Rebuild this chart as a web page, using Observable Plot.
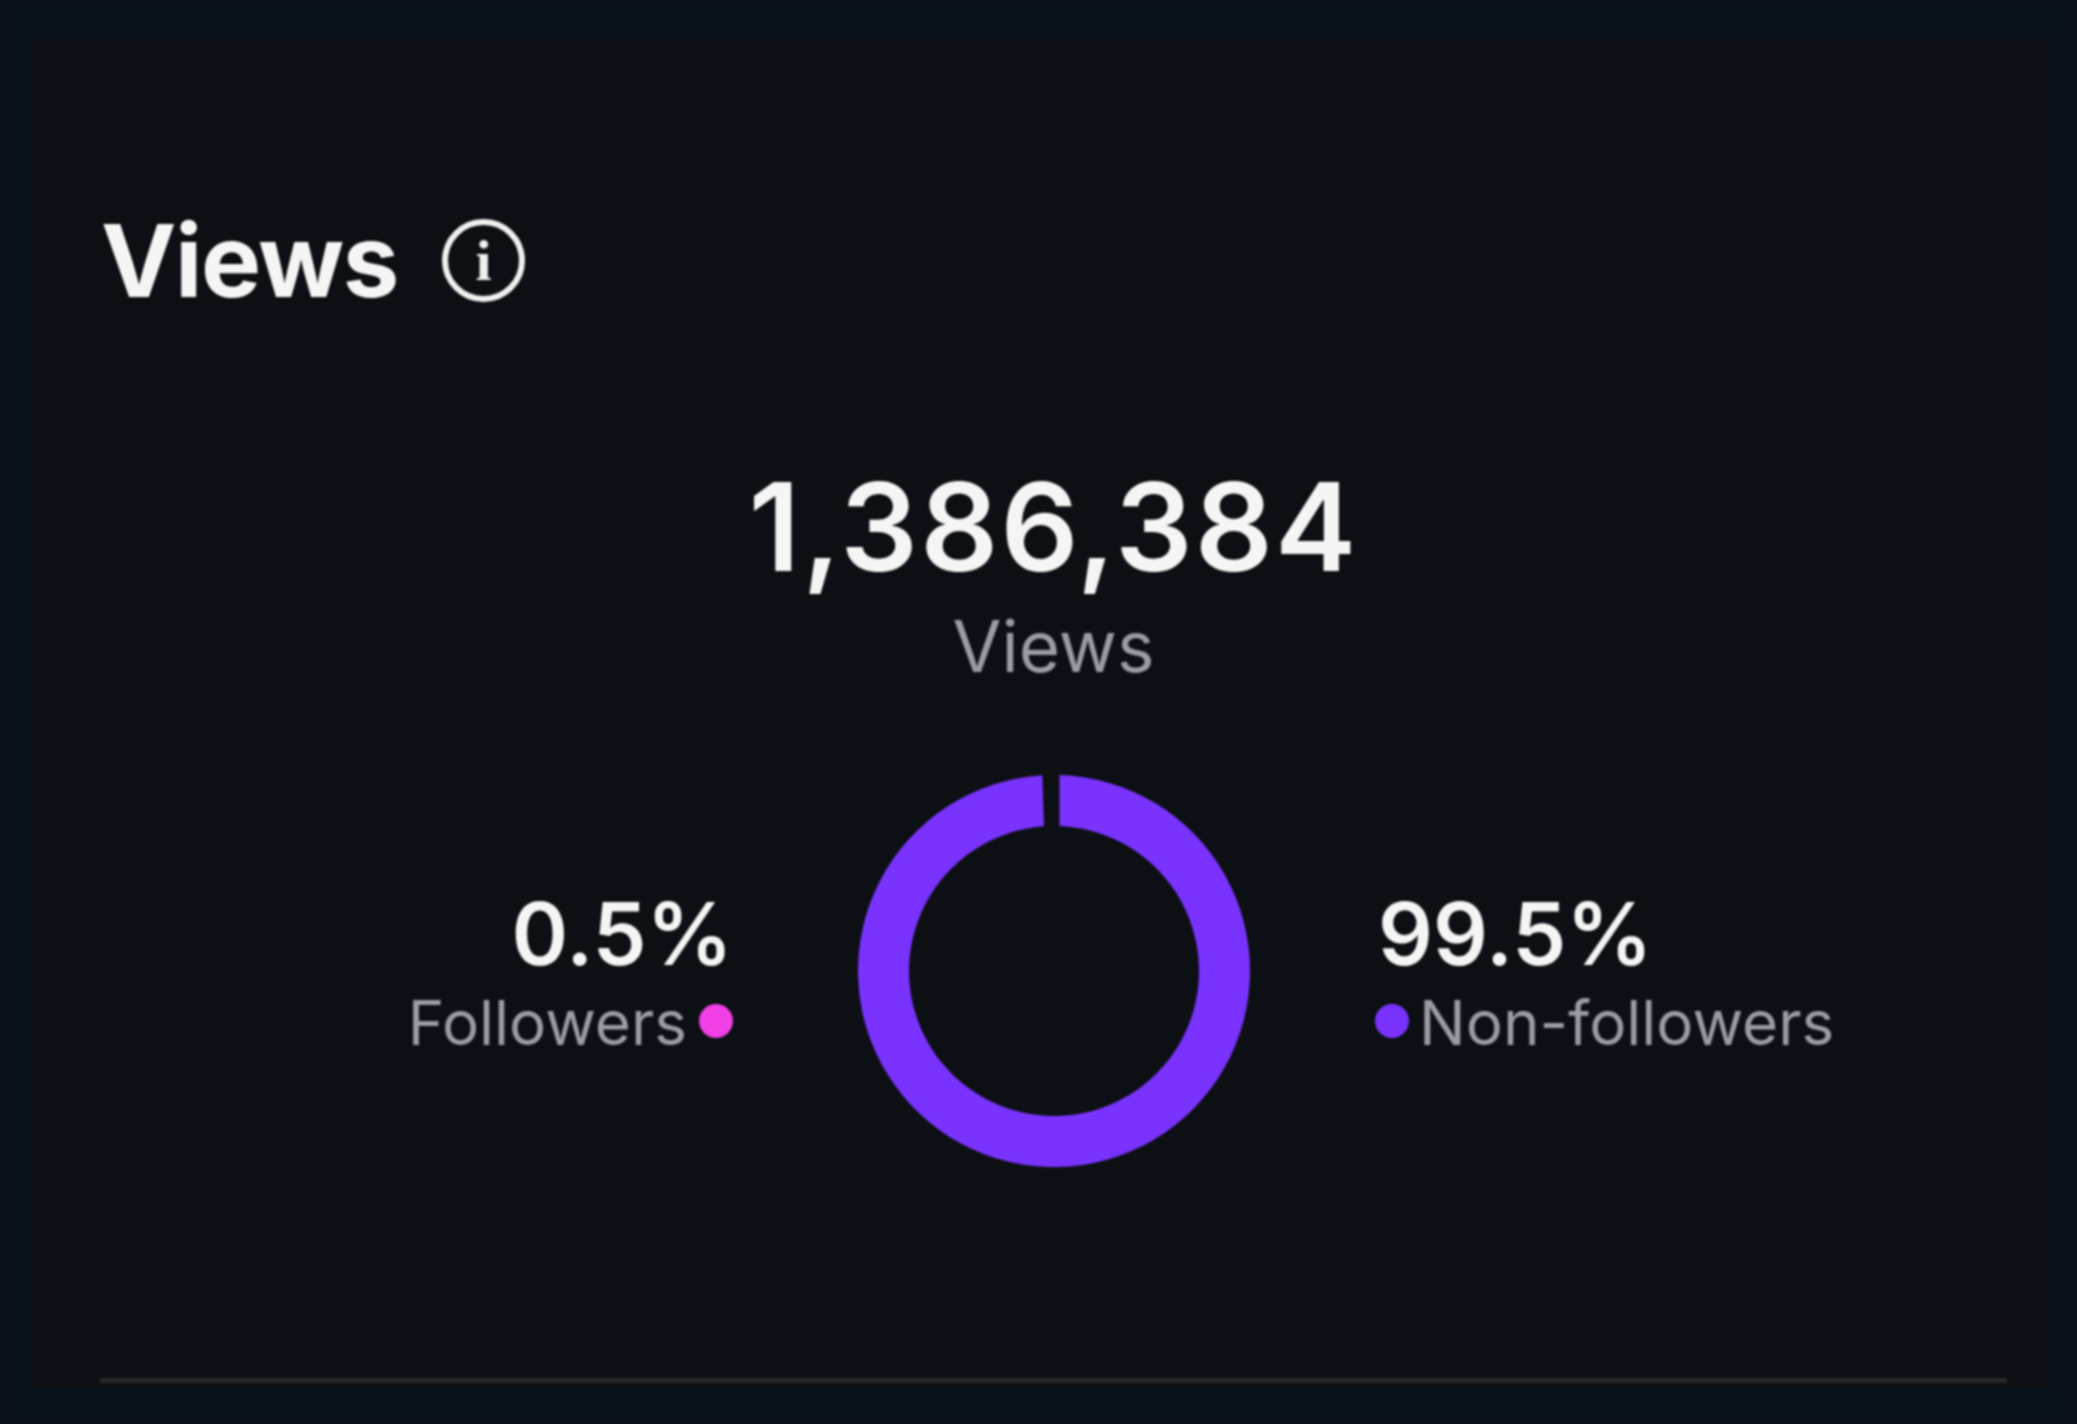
<!DOCTYPE html>
<html>
<head>
<meta charset="utf-8">
<script src="https://cdn.jsdelivr.net/npm/d3@7"></script>
<script src="https://cdn.jsdelivr.net/npm/@observablehq/plot@0.6"></script>
<style>
  html, body { margin: 0; padding: 0; background: #09111a; }
  #page { position: relative; width: 2077px; height: 1424px; overflow: hidden; background: #09111a; font-family: Inter, "Liberation Sans", sans-serif; filter: blur(1.3px); }
  #panel { position: absolute; left: 32px; top: 40px; width: 2017px; height: 1348px; background: #0c0f13; }
  .t { position: absolute; white-space: nowrap; line-height: 1; }
  #title { left: 101px; top: 210px; font-size: 101px; font-weight: 700; color: #f5f5f5; letter-spacing: -1.4px; }
  #info { position: absolute; left: 442px; top: 219px; width: 71px; height: 71px; border: 6px solid #f0f0f0; border-radius: 50%; text-align: center; color: #f0f0f0; font: bold 58px/71px "Liberation Serif", serif; }
  #total { left: 0; width: 2107px; top: 466px; text-align: center; font-size: 122px; font-weight: 600; color: #f5f5f5; letter-spacing: 2.2px; }
  #totalLabel { left: 0; width: 2107px; top: 611px; text-align: center; font-size: 71px; font-weight: 400; color: #9a9ca6; }
  .pct { font-size: 86px; font-weight: 600; color: #f5f5f5; top: 891px; }
  .lab { font-size: 62px; font-weight: 400; color: #9a9ca6; top: 992px; }
  .swatch { position: absolute; width: 34px; height: 34px; border-radius: 50%; }
  #rule { position: absolute; left: 100px; width: 1907px; top: 1378px; height: 5px; background: #25272a; }
  #chart { position: absolute; left: 853.5px; top: 771px; width: 400px; height: 400px; }
  #chart svg { display: block; background: transparent; }
</style>
</head>
<body>
<div id="page">
  <div id="panel"></div>
  <div class="t" id="title"></div>
  <div id="info">i</div>
  <div class="t" id="total"></div>
  <div class="t" id="totalLabel"></div>
  <div class="t pct" id="pctA"></div>
  <div class="t lab" id="labA"></div>
  <div class="swatch" id="swA" style="left:699px;top:1004px"></div>
  <div class="t pct" id="pctB"></div>
  <div class="swatch" id="swB" style="left:1375px;top:1004px"></div>
  <div class="t lab" id="labB"></div>
  <div id="chart"></div>
  <div id="rule"></div>
</div>
<script>
const titleText = "Views";
const totalViews = 1386384;
const totalLabel = "Views";
const categories = ["Non-followers", "Followers"];
const shares = [99.5, 0.5];
const colors = ["#7a33ff", "#f23fe6"];

const fmtPct = d => d + "%";
const set = (id, s) => { document.getElementById(id).textContent = s; };
set("title", titleText);
set("total", d3.format(",")(totalViews));
set("totalLabel", totalLabel);
set("pctA", fmtPct(shares[1]));
set("labA", categories[1]);
set("pctB", fmtPct(shares[0]));
set("labB", categories[0]);
document.getElementById("swA").style.background = colors[1];
document.getElementById("swB").style.background = colors[0];

// right-aligned left legend, left-aligned right legend
document.getElementById("pctA").style.right = (2077 - 733) + "px";
document.getElementById("labA").style.right = (2077 - 687) + "px";
document.getElementById("pctB").style.left = "1378px";
document.getElementById("labB").style.left = "1419px";

const rows = categories.map((category, i) => ({category, share: shares[i]}));

const outer = 196, inner = 145, size = 400;
const arc = d3.arc().innerRadius(inner).outerRadius(outer).padRadius(outer).padAngle(11 / outer);

// Stacked share bar, bent round the ring: the x scale maps percent to radians.
const chart = Plot.plot({
  width: size, height: size, margin: 0,
  style: {background: "transparent"},
  x: {domain: [0, 100], range: [0, 2 * Math.PI], axis: null},
  color: {domain: categories, range: colors},
  marks: [
    Plot.barX(rows, Plot.stackX({
      x: "share", fill: "category", order: null,
      render(index, scales, values, dimensions, context, next) {
        const g = next(index, scales, values, dimensions, context);
        const rects = [...g.querySelectorAll("rect")];
        index.forEach((i, k) => {
          const p = document.createElementNS("http://www.w3.org/2000/svg", "path");
          const a0 = scales.x(values.channels.x1.value[i]);
          const a1 = scales.x(values.channels.x2.value[i]);
          p.setAttribute("d", arc({startAngle: a0, endAngle: a1}));
          p.setAttribute("transform", `translate(${size / 2},${size / 2})`);
          p.setAttribute("fill", scales.color(rows[i].category));
          rects[k].replaceWith(p);
        });
        return g;
      }
    }))
  ]
});
document.getElementById("chart").appendChild(chart);
</script>
</body>
</html>
